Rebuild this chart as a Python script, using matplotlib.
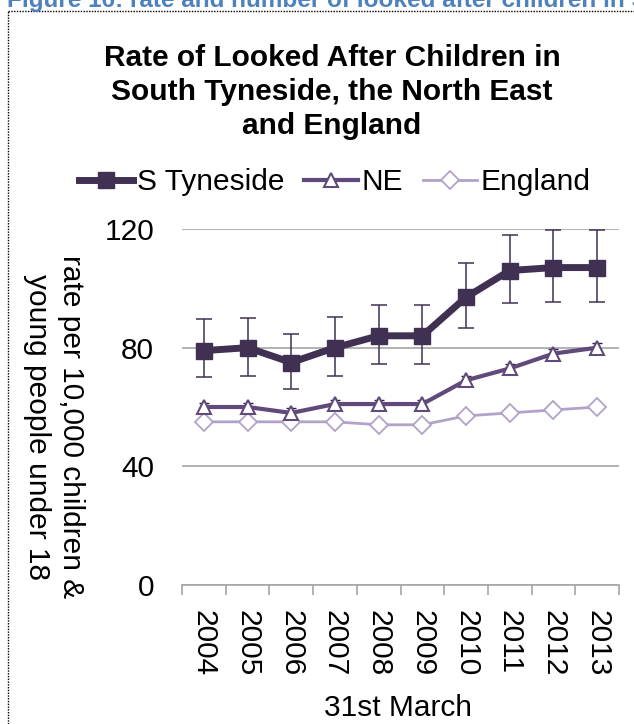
import matplotlib
matplotlib.use("Agg")
import matplotlib.pyplot as plt
from matplotlib.lines import Line2D
import numpy as np

plt.rcParams['font.family'] = ['Liberation Sans', 'DejaVu Sans']

years = ["2004", "2005", "2006", "2007", "2008", "2009", "2010", "2011", "2012", "2013"]

# Rate per 10,000 children and young people under 18
s_tyneside = [79, 80, 75, 80, 84, 84, 97, 106, 107, 107]
s_tyneside_low = [70, 70.5, 66, 70.5, 74.5, 74.5, 86.5, 95, 95.5, 95.5]
s_tyneside_high = [89.5, 90, 84.5, 90.5, 94.5, 94.5, 108.5, 118, 119.5, 119.5]

ne = [60, 60, 58, 61, 61, 61, 69, 73, 78, 80]
ne_low = [58.5, 58.5, 56.5, 59.5, 59.5, 59.5, 67.5, 71.5, 76.5, 78.5]
ne_high = [61.5, 61.5, 59.5, 62.5, 62.5, 62.5, 70.5, 74.5, 79.5, 81.5]

england = [55, 55, 55, 55, 54, 54, 57, 58, 59, 60]
england_low = [54.6, 54.6, 54.6, 54.6, 53.6, 53.6, 56.6, 57.6, 58.6, 59.6]
england_high = [55.4, 55.4, 55.4, 55.4, 54.4, 54.4, 57.4, 58.4, 59.4, 60.4]

y_ticks = [0, 40, 80, 120]

C_ST = "#403152"
C_NE = "#604A7B"
C_EN = "#B3A2C7"
FS = 21.5

W, H = 634, 724
fig = plt.figure(figsize=(W / 100, H / 100), dpi=100)
ax = fig.add_axes([182 / W, 1 - 585 / H, 437 / W, 356 / H])

x = np.arange(len(years))


def draw_series(vals, low, high, color, ecolor, marker, ms, lw, mfc, mew,
                capsize, elw, label, z):
    vals = np.array(vals, dtype=float)
    err = [vals - np.array(low), np.array(high) - vals]
    ax.errorbar(x, vals, yerr=err, fmt="none", ecolor=ecolor,
                elinewidth=elw, capsize=capsize, capthick=elw, zorder=z)
    ax.plot(x, vals, color=color, lw=lw, marker=marker, ms=ms,
            mfc=mfc, mec=color, mew=mew, label=label, zorder=z + 0.5)


draw_series(england, england_low, england_high, C_EN, "#202020", "D", 9,
            2.0, "white", 1.3, 3, 1.0, "England", 3)
draw_series(ne, ne_low, ne_high, C_NE, "#302040", "^", 10,
            3.0, "white", 1.5, 3.6, 1.0, "NE", 4)
draw_series(s_tyneside, s_tyneside_low, s_tyneside_high, C_ST, C_ST, "s", 12,
            5.0, C_ST, 1.0, 5.8, 1.1, "S Tyneside", 5)

ax.set_xlim(-0.5, len(years) - 0.5)
ax.set_ylim(0, 120)
ax.set_yticks(y_ticks)
ax.set_yticklabels([str(v) for v in y_ticks])
ax.yaxis.grid(True, color="#A6A6A6", lw=1.2)
ax.set_axisbelow(True)
ax.tick_params(axis="y", length=0, pad=20, labelsize=FS)

ax.set_xticks(x)
ax.set_xticklabels(years, rotation=-90, fontsize=FS)
ax.tick_params(axis="x", which="major", length=0, pad=18)
ax.set_xticks(np.arange(-0.5, len(years)), minor=True)
ax.tick_params(axis="x", which="minor", length=7, color="#A6A6A6", width=1.2)

for side in ("left", "right", "top"):
    ax.spines[side].set_visible(False)
ax.spines["bottom"].set_color("#A6A6A6")
ax.spines["bottom"].set_linewidth(1.2)

ax.set_xlabel("31st March", fontsize=FS, va="center")
ax.xaxis.set_label_coords((398 - 182) / 437, (585 - 708) / 356)
ax.set_ylabel("rate per 10,000 children &\nyoung people under 18",
              fontsize=FS, rotation=-90, va="center", ha="center",
              linespacing=1.3)
ax.yaxis.set_label_coords((54 - 182) / 437, (585 - 427) / 356)

fig.text(332 / W, 1 - 92 / H,
         "Rate of Looked After Children in\nSouth Tyneside, the North East\nand England",
         ha="center", va="center", fontsize=FS, fontweight="bold",
         linespacing=1.25)

handles = [
    Line2D([], [], color=C_ST, lw=5, marker="s", ms=12, mfc=C_ST, mec=C_ST),
    Line2D([], [], color=C_NE, lw=3, marker="^", ms=10, mfc="white", mec=C_NE, mew=1.5),
    Line2D([], [], color=C_EN, lw=2, marker="D", ms=9, mfc="white", mec=C_EN, mew=1.3),
]
fig.legend(handles, ["S Tyneside", "NE", "England"], loc="center",
           bbox_to_anchor=(335 / W, 1 - 182 / H), ncol=3, frameon=False,
           fontsize=FS, handlelength=1.8, handletextpad=0.13,
           columnspacing=0.67, borderpad=0, borderaxespad=0)

# caption above the frame, cut off by the top edge
fig.text(7 / W, 1 - 7 / H,
         "Figure 16: rate and number of looked after children in South Tyneside",
         ha="left", va="baseline", fontsize=17.5, fontweight="bold",
         color="#4F81BD")
# dotted frame around the chart
fig.add_artist(Line2D([8 / W, 8 / W], [0, 1 - 11 / H], color="black",
                      lw=1.0, ls=(0, (1, 1)), transform=fig.transFigure))
fig.add_artist(Line2D([8 / W, 1], [1 - 11 / H, 1 - 11 / H], color="black",
                      lw=1.0, ls=(0, (1, 1)), transform=fig.transFigure))

fig.savefig("out.png", dpi=100)
